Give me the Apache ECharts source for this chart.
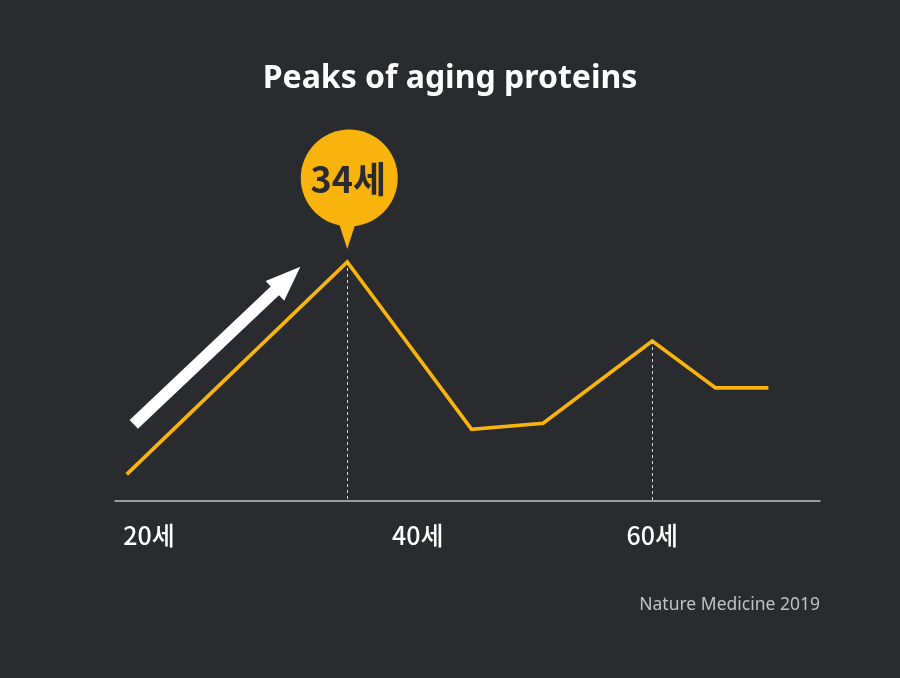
<!DOCTYPE html>
<html>
<head>
<meta charset="utf-8">
<script src="https://cdn.jsdelivr.net/npm/echarts@6/dist/echarts.min.js"></script>
<style>
html,body{margin:0;padding:0;background:#2a2b2f;}
#chart{width:900px;height:678px;}
</style>
</head>
<body>
<div id="chart"></div>
<script>
// ---- data ----
const title = 'Peaks of aging proteins';
const source = 'Nature Medicine 2019';
const ages = [15.2, 34, 44.6, 50.7, 60, 65.4, 69.9];
const levels = [7.6, 68.3, 20.5, 22.2, 45.7, 32.3, 32.3];
const peakAges = [34, 60];
const calloutAge = 34;
const tickAges = [20, 40, 60];
const unit = '세';
const arrowFrom = [15.8, 21.9];
const arrowTo = [30.0, 66.9];

// ---- styles ----
const BG = '#2a2b2f';
const YELLOW = '#f8b40c';
const levelAt = a => levels[ages.indexOf(a)];

const chart = echarts.init(document.getElementById('chart'), null, {renderer: 'canvas'});

const option = {
  backgroundColor: BG,
  animation: false,
  title: {
    text: title,
    left: 'center',
    top: 58,
    textStyle: {color: '#ffffff', fontSize: 32, fontWeight: 'bold', fontFamily: '"Noto Sans"'}
  },
  graphic: [{
    type: 'text',
    right: 80,
    top: 596,
    style: {text: source, fill: '#bfc0c2', font: '17.5px "Noto Sans"'}
  }],
  grid: {left: 115, right: 80, top: 151, bottom: 177},
  xAxis: {
    type: 'value',
    min: 14.2,
    max: 74.3,
    splitLine: {show: false},
    axisTick: {show: false},
    axisLine: {show: true, lineStyle: {color: '#c4c4c6', width: 1.5}},
    axisLabel: {
      customValues: tickAges,
      margin: 22,
      color: '#ffffff',
      fontSize: 25,
      fontWeight: 500,
      fontFamily: '"Noto Sans CJK KR"',
      formatter: v => v === tickAges[0] ? '{a|' + v + unit + '}' : '{b|' + v + unit + '}',
      rich: {
        a: {color: '#ffffff', fontSize: 25, fontWeight: 500, fontFamily: '"Noto Sans CJK KR"', padding: [0, 68, 0, 0]},
        b: {color: '#ffffff', fontSize: 25, fontWeight: 500, fontFamily: '"Noto Sans CJK KR"'}
      }
    }
  },
  yAxis: {
    type: 'value', min: 0, max: 100, show: false, splitLine: {show: false}
  },
  series: [
    {
      type: 'line',
      data: ages.map((a, i) => [a, levels[i]]),
      symbol: 'none',
      lineStyle: {color: YELLOW, width: 3.7, join: 'miter'},
      z: 3,
      markLine: {
        silent: true,
        symbol: ['none', 'none'],
        label: {show: false},
        lineStyle: {color: '#d8d8d8', type: [3, 3], width: 1},
        data: peakAges.map(a => [{coord: [a, levelAt(a)]}, {coord: [a, 0]}])
      }
    },
    {
      type: 'custom',
      data: [[arrowFrom[0], arrowFrom[1], arrowTo[0], arrowTo[1]]],
      z: 4,
      renderItem: function (params, api) {
        const p0 = api.coord([api.value(0), api.value(1)]);
        const p1 = api.coord([api.value(2), api.value(3)]);
        const dx = p1[0] - p0[0], dy = p1[1] - p0[1];
        const len = Math.sqrt(dx * dx + dy * dy);
        const ux = dx / len, uy = dy / len;
        const nx = -uy, ny = ux;
        const headLen = 35, headHalf = 13.5, shaftHalf = 6;
        const bx = p1[0] - ux * headLen, by = p1[1] - uy * headLen;
        return {
          type: 'group',
          children: [
            {type: 'polygon', shape: {points: [
              [p0[0] + nx * shaftHalf, p0[1] + ny * shaftHalf],
              [bx + ux + nx * shaftHalf, by + uy + ny * shaftHalf],
              [bx + ux - nx * shaftHalf, by + uy - ny * shaftHalf],
              [p0[0] - nx * shaftHalf, p0[1] - ny * shaftHalf]
            ]}, style: {fill: '#ffffff'}},
            {type: 'polygon', shape: {points: [
              [p1[0], p1[1]],
              [bx + nx * headHalf, by + ny * headHalf],
              [bx - nx * headHalf, by - ny * headHalf]
            ]}, style: {fill: '#ffffff'}}
          ]
        };
      }
    },
    {
      type: 'custom',
      data: [[calloutAge, levelAt(calloutAge)]],
      z: 5,
      renderItem: function (params, api) {
        const p = api.coord([api.value(0), api.value(1)]);
        const cx = p[0] + 2, cy = p[1] - 84, r = 48.5;
        return {
          type: 'group',
          children: [
            {type: 'polygon', shape: {points: [
              [p[0] - 10, cy + 40], [p[0] + 10, cy + 40], [p[0], p[1] - 13]
            ]}, style: {fill: YELLOW}},
            {type: 'circle', shape: {cx: cx, cy: cy, r: r}, style: {fill: YELLOW}},
            {type: 'text', x: cx - 1, y: cy + 1, style: {
              text: api.value(0) + unit,
              fill: '#2a2b2f',
              font: 'bold 36px "Noto Sans CJK KR"',
              align: 'center', verticalAlign: 'middle'
            }}
          ]
        };
      }
    }
  ]
};
chart.setOption(option);
</script>
</body>
</html>
